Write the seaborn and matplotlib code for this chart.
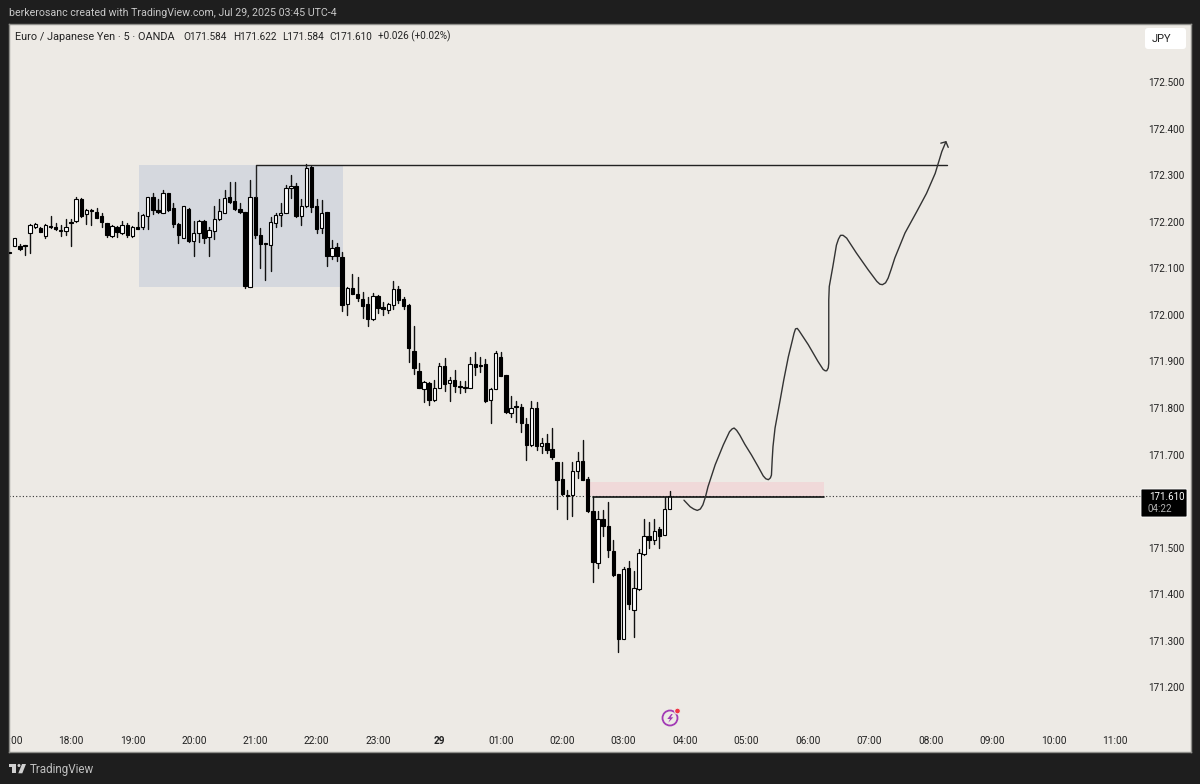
import matplotlib
matplotlib.use("Agg")
import matplotlib.pyplot as plt
import numpy as np
import pandas as pd
import seaborn as sns
from matplotlib.patches import Circle, FancyBboxPatch, Polygon, Rectangle
from matplotlib.transforms import Affine2D

DARK = "#1e1e1e"
PANEL = "#edeae5"

# 5 minute bars, bar 0 is the 18:00 candle
opens = [
    172.134, 172.149, 172.149, 172.151, 172.177, 172.188, 172.187, 172.170, 172.192, 172.188,
    172.181, 172.180, 172.200, 172.201, 172.248, 172.217, 172.226, 172.221, 172.212, 172.197,
    172.169, 172.189, 172.175, 172.193, 172.169, 172.188, 172.188, 172.212, 172.253, 172.226,
    172.220, 172.261, 172.229, 172.196, 172.166, 172.228, 172.158, 172.177, 172.201, 172.168,
    172.180, 172.205, 172.220, 172.253, 172.244, 172.228, 172.221, 172.061, 172.253, 172.172,
    172.154, 172.151, 172.198, 172.215, 172.220, 172.272, 172.276, 172.213, 172.233, 172.317,
    172.235, 172.186, 172.221, 172.126, 172.145, 172.125, 172.023, 172.057, 172.046, 172.034,
    172.023, 171.991, 172.040, 172.016, 172.011, 172.021, 172.056, 172.034, 172.021, 171.923,
    171.879, 171.841, 171.853, 171.817, 171.842, 171.890, 171.853, 171.860, 171.847, 171.845,
    171.842, 171.894, 171.893, 171.895, 171.817, 171.841, 171.910, 171.870, 171.790, 171.804,
    171.802, 171.766, 171.720, 171.800, 171.718, 171.725, 171.711, 171.685, 171.647, 171.613,
    171.613, 171.664, 171.687, 171.647, 171.578, 171.468, 171.561, 171.547, 171.493, 171.443,
    171.303, 171.457, 171.366, 171.411, 171.486, 171.526, 171.516, 171.540, 171.528, 171.583,
]
highs = [
    172.134, 172.165, 172.152, 172.151, 172.195, 172.198, 172.188, 172.195, 172.213, 172.198,
    172.193, 172.205, 172.205, 172.253, 172.251, 172.227, 172.227, 172.230, 172.218, 172.198,
    172.193, 172.191, 172.201, 172.198, 172.191, 172.222, 172.217, 172.254, 172.263, 172.248,
    172.268, 172.263, 172.240, 172.198, 172.234, 172.230, 172.201, 172.204, 172.203, 172.188,
    172.234, 172.248, 172.268, 172.285, 172.285, 172.240, 172.221, 172.290, 172.254, 172.186,
    172.155, 172.211, 172.218, 172.240, 172.279, 172.301, 172.283, 172.248, 172.324, 172.319,
    172.248, 172.246, 172.222, 172.161, 172.155, 172.135, 172.059, 172.088, 172.081, 172.049,
    172.039, 172.048, 172.042, 172.027, 172.025, 172.073, 172.062, 172.038, 172.023, 171.976,
    171.896, 171.857, 171.855, 171.860, 171.896, 171.908, 171.866, 171.882, 171.858, 171.859,
    171.910, 171.921, 171.910, 171.905, 171.842, 171.922, 171.921, 171.870, 171.825, 171.816,
    171.808, 171.778, 171.814, 171.812, 171.736, 171.745, 171.758, 171.685, 171.685, 171.623,
    171.684, 171.706, 171.732, 171.651, 171.608, 171.579, 171.581, 171.598, 171.517, 171.444,
    171.459, 171.472, 171.450, 171.497, 171.561, 171.555, 171.562, 171.544, 171.609, 171.622,
]
lows = [
    172.134, 172.149, 172.140, 172.129, 172.134, 172.186, 172.178, 172.165, 172.186, 172.183,
    172.170, 172.171, 172.149, 172.200, 172.211, 172.195, 172.194, 172.208, 172.188, 172.168,
    172.168, 172.168, 172.174, 172.168, 172.168, 172.184, 172.185, 172.184, 172.216, 172.218,
    172.219, 172.224, 172.188, 172.155, 172.165, 172.157, 172.127, 172.157, 172.155, 172.127,
    172.163, 172.204, 172.218, 172.241, 172.225, 172.220, 172.058, 172.059, 172.165, 172.100,
    172.075, 172.095, 172.188, 172.190, 172.220, 172.251, 172.211, 172.194, 172.231, 172.222,
    172.177, 172.177, 172.105, 172.120, 172.115, 172.009, 172.000, 172.044, 172.029, 171.993,
    171.976, 171.989, 172.005, 172.000, 172.005, 172.013, 172.026, 172.013, 171.898, 171.873,
    171.842, 171.812, 171.807, 171.816, 171.842, 171.837, 171.814, 171.835, 171.833, 171.835,
    171.842, 171.871, 171.878, 171.812, 171.767, 171.840, 171.868, 171.789, 171.780, 171.769,
    171.749, 171.689, 171.719, 171.710, 171.703, 171.704, 171.690, 171.584, 171.613, 171.561,
    171.567, 171.649, 171.646, 171.576, 171.427, 171.456, 171.524, 171.481, 171.440, 171.275,
    171.303, 171.369, 171.309, 171.410, 171.485, 171.499, 171.508, 171.500, 171.527, 171.582,
]
closes = [
    172.134, 172.165, 172.141, 172.149, 172.193, 172.195, 172.179, 172.194, 172.188, 172.185,
    172.183, 172.188, 172.197, 172.248, 172.213, 172.226, 172.224, 172.209, 172.200, 172.171,
    172.191, 172.178, 172.193, 172.171, 172.189, 172.185, 172.214, 172.253, 172.226, 172.222,
    172.261, 172.226, 172.196, 172.172, 172.233, 172.158, 172.177, 172.202, 172.166, 172.183,
    172.205, 172.223, 172.251, 172.243, 172.228, 172.221, 172.062, 172.253, 172.171, 172.153,
    172.152, 172.199, 172.214, 172.220, 172.273, 172.276, 172.213, 172.234, 172.315, 172.232,
    172.185, 172.220, 172.126, 172.143, 172.126, 172.022, 172.057, 172.045, 172.037, 172.020,
    171.992, 172.041, 172.015, 172.013, 172.023, 172.055, 172.032, 172.020, 171.928, 171.885,
    171.842, 171.855, 171.817, 171.844, 171.891, 171.852, 171.860, 171.847, 171.845, 171.842,
    171.894, 171.889, 171.890, 171.814, 171.840, 171.918, 171.869, 171.791, 171.800, 171.802,
    171.768, 171.721, 171.800, 171.719, 171.724, 171.710, 171.694, 171.646, 171.615, 171.612,
    171.664, 171.687, 171.646, 171.578, 171.469, 171.561, 171.547, 171.494, 171.441, 171.303,
    171.454, 171.379, 171.413, 171.488, 171.526, 171.517, 171.535, 171.526, 171.583, 171.610,
]

# hand drawn projection, x in bars
path_bars = [
    119.8, 121.0, 121.7, 122.4, 123.0, 123.5, 124.0, 124.5, 125.9, 127.5, 128.7, 129.2, 129.6, 130.1, 130.7,
    131.7, 133.0, 134.3, 135.3, 135.8, 136.3, 136.7, 136.9, 137.05, 137.2, 137.6, 138.6, 139.3, 140.2, 141.0,
    141.3, 141.6, 141.95, 142.3, 144.1, 146.0, 147.0, 147.4, 147.7, 148.0, 148.1, 148.1, 148.1, 148.2, 148.9,
    149.6, 150.0, 150.4, 150.9, 151.6, 153.5, 155.8, 157.5, 158.1, 158.6, 159.2, 159.7, 160.3, 161.0, 163.0,
    165.3, 167.2, 168.9, 170.2, 171.0,
]
path_prices = [
    171.602, 171.588, 171.583, 171.580, 171.583, 171.592, 171.609, 171.631, 171.678, 171.721, 171.749, 171.755,
    171.757, 171.752, 171.742, 171.722, 171.699, 171.674, 171.654, 171.648, 171.646, 171.650, 171.656, 171.690,
    171.717, 171.757, 171.817, 171.860, 171.910, 171.946, 171.960, 171.970, 171.971, 171.966, 171.936, 171.900,
    171.883, 171.880, 171.880, 171.886, 171.896, 171.989, 172.032, 172.061, 172.104, 172.150, 172.163, 172.171,
    172.171, 172.165, 172.133, 172.097, 172.072, 172.066, 172.065, 172.069, 172.079, 172.098, 172.122, 172.176,
    172.222, 172.261, 172.304, 172.351, 172.372,
]
arrow_bars = [170.0, 171.0, 171.45]
arrow_prices = [172.369, 172.372, 172.360]

# 171.600 sits under the last price box in the reference, so it has no label here
price_ticks = [171.2, 171.3, 171.4, 171.5, 171.7, 171.8, 171.9, 172.0, 172.1, 172.2, 172.3, 172.4, 172.5]
time_ticks = list(range(-12, 205, 12))
time_labels = ["17:00", "18:00", "19:00", "20:00", "21:00", "22:00", "23:00", "29", "01:00", "02:00",
               "03:00", "04:00", "05:00", "06:00", "07:00", "08:00", "09:00", "10:00", "11:00"]

last_price = 171.610
resistance = 172.323
zone_low, zone_high = 172.060, 172.322
supply_low, supply_high = 171.610, 171.642

sns.set_theme(style="white", rc={"figure.facecolor": DARK, "axes.facecolor": PANEL})
plt.rcParams["font.family"] = ["Roboto", "DejaVu Sans"]

fig = plt.figure(figsize=(12, 7.84), dpi=100)
ax = fig.add_axes([9 / 1200, 32 / 784, 1182 / 1200, 728 / 784])
# pixel coordinates of the picture for the tradingview furniture
px = Affine2D().scale(1, -1).translate(0, 784)

bar_index = np.arange(-12, 118)
o = np.array(opens)
c = np.array(closes)

ax.add_patch(Rectangle((13.3, zone_low), 39.9, zone_high - zone_low, color="#d5d8de", lw=0, zorder=1))
ax.add_patch(Rectangle((100.45, supply_low), 46.65, supply_high - supply_low, color="#f0d9d9", lw=0, zorder=1))

wicks = pd.DataFrame({
    "bar": np.concatenate([bar_index, bar_index]),
    "price": np.concatenate([highs, lows]),
})
sns.lineplot(data=wicks, x="bar", y="price", units="bar", estimator=None, color="#111111",
             lw=1.0, legend=False, ax=ax, zorder=2)
ax.bar(bar_index, np.maximum(np.abs(c - o), 0.001), bottom=np.minimum(o, c), width=0.66,
       color=np.where(c >= o, "white", "black"), edgecolor="black", lw=0.8, zorder=3)

ax.axhline(last_price, xmax=(1140 - 9) / 1182, color="#333333", lw=0.8, ls=(0, (1, 2)), zorder=2)
ax.plot([36.15, 36.15, 171.2], [172.253, resistance, resistance], color="#222222", lw=1.0, zorder=4)
ax.plot([102.1, 147.1], [171.609, 171.609], color="#111111", lw=1.2, zorder=4)

sns.lineplot(x=path_bars, y=path_prices, sort=False, estimator=None, color="#333333", lw=1.0,
             solid_joinstyle="round", ax=ax, zorder=4)
sns.lineplot(x=arrow_bars, y=arrow_prices, sort=False, estimator=None, color="#333333", lw=1.0, ax=ax, zorder=4)

ax.set_xlim(-12.12, 218.9)
ax.set_ylim(171.061, 172.625)
ax.set_xlabel("")
ax.set_ylabel("")
ax.set_xticks(time_ticks, time_labels)
ax.set_yticks(price_ticks, [f"{p:.3f}" for p in price_ticks])
ax.tick_params(axis="x", length=0, pad=-11.5, labelsize=7.3, labelcolor="#222222")
ax.tick_params(axis="y", length=0, left=False, labelleft=False, right=False, labelright=True,
               pad=-31, labelsize=7.2, labelcolor="#222222")
for label in ax.get_xticklabels():
    label.set_clip_box(ax.bbox)
    label.set_clip_on(True)
    if label.get_text() == "29":
        label.set_fontweight("bold")
for spine in ax.spines.values():
    spine.set_color("#8f8f8b")
    spine.set_linewidth(1.0)

fig.text(9, 13, "berkerosanc created with TradingView.com, Jul 29, 2025 03:45 UTC-4", transform=px,
         color="#c8c8c8", fontsize=7.7, va="center")
fig.text(15, 36.5, "Euro / Japanese Yen · 5 · OANDA", transform=px, color="#222222", fontsize=7.8, va="center")
for x, s in [(183, "O171.584"), (233, "H171.622"), (282, "L171.584"), (329, "C171.610"), (378, "+0.026 (+0.02%)")]:
    fig.text(x, 36.5, s, transform=px, color="#222222", fontsize=7.2, va="center")

fig.add_artist(FancyBboxPatch((1145, 28), 41, 21, boxstyle="round,pad=0,rounding_size=3", transform=px,
                              fc="white", ec="none", zorder=5))
fig.text(1161, 39, "JPY", transform=px, color="#222222", fontsize=8, ha="center", va="center", zorder=6)
fig.add_artist(FancyBboxPatch((1141, 489), 46, 28, boxstyle="round,pad=0,rounding_size=1", transform=px,
                              fc="black", ec="white", lw=0.6, zorder=5))
fig.text(1149, 497.3, "171.610", transform=px, color="white", fontsize=7.0, va="center", zorder=6)
fig.text(1148, 509.3, "04:22", transform=px, color="#b0b0b0", fontsize=7.0, va="center", zorder=6)

# snapshot badge
fig.add_artist(Circle((670, 718), 7.5, transform=px, fc="none", ec="#a23bb5", lw=1.3, zorder=5))
fig.add_artist(Polygon([(671.3, 714), (667.3, 719), (670, 719), (668.3, 722.7), (673.3, 717.3), (670.7, 717.3),
                        (672.7, 714)], transform=px, fc="#a23bb5", ec="none", zorder=6))
fig.add_artist(Circle((677.5, 711), 2.9, transform=px, fc="#f23645", ec=PANEL, lw=0.8, zorder=6))

# tradingview logo
fig.add_artist(Polygon([(8.5, 764), (16, 764), (16, 773.3), (11.7, 773.3), (11.7, 766.7), (8.5, 766.7)],
                       transform=px, fc="#d0d0d0", ec="none", zorder=5))
fig.add_artist(Circle((19, 765.5), 1.5, transform=px, fc="#d0d0d0", ec="none", zorder=5))
fig.add_artist(Polygon([(22, 764), (26, 764), (22.3, 773.3), (18.3, 773.3)], transform=px, fc="#d0d0d0",
                       ec="none", zorder=5))
fig.text(30, 769, "TradingView", transform=px, color="#c0c0c0", fontsize=8.4, va="center")

fig.savefig("out.png", dpi=100, facecolor=DARK)
